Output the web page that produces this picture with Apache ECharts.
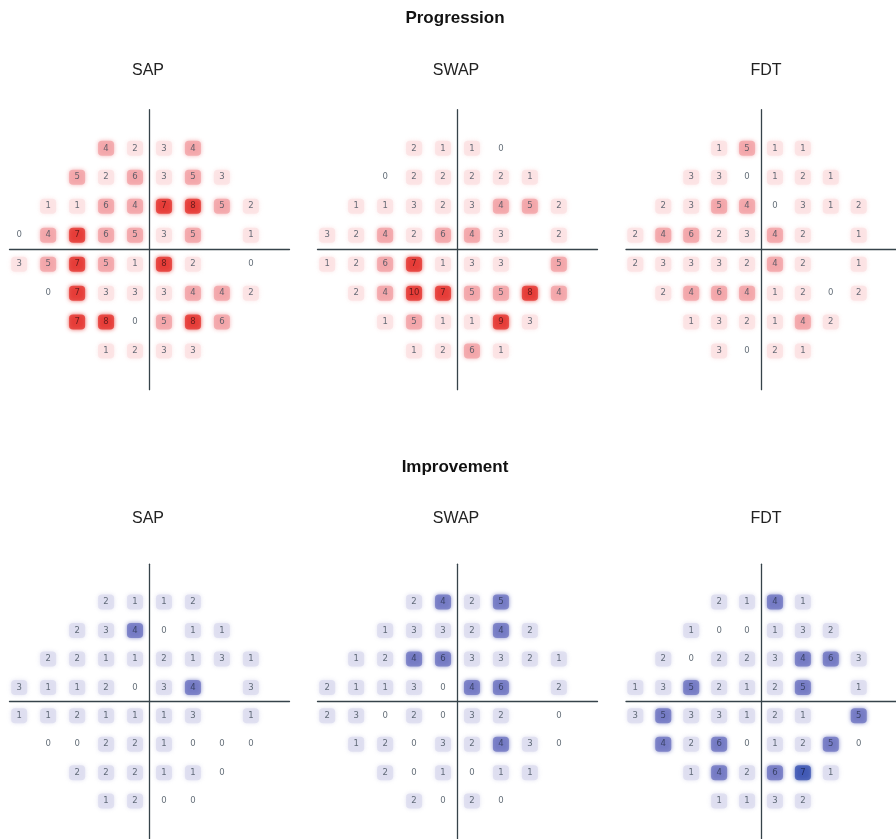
<!DOCTYPE html>
<html>
<head>
<meta charset="utf-8">
<script src="https://cdn.jsdelivr.net/npm/echarts@6/dist/echarts.min.js"></script>
<style>html,body{margin:0;padding:0;background:#fff}#c{width:896px;height:839px}</style>
</head>
<body>
<div id="c"></div>
<script>
// 24-2 test grid positions (degrees)
const xDeg = [-27, -21, -15, -9, -3, 3, 9, 15, 21];
const yDeg = [21, 15, 9, 3, -3, -9, -15, -21];
const sectionTitles = ['Progression', 'Improvement'];
const testNames = ['SAP', 'SWAP', 'FDT'];
const _ = null;

const progSAP = [
  [_, _, _, 4, 2, 3, 4, _, _],
  [_, _, 5, 2, 6, 3, 5, 3, _],
  [_, 1, 1, 6, 4, 7, 8, 5, 2],
  [0, 4, 7, 6, 5, 3, 5, _, 1],
  [3, 5, 7, 5, 1, 8, 2, _, 0],
  [_, 0, 7, 3, 3, 3, 4, 4, 2],
  [_, _, 7, 8, 0, 5, 8, 6, _],
  [_, _, _, 1, 2, 3, 3, _, _]
];
const progSWAP = [
  [_, _, _, 2, 1, 1, 0, _, _],
  [_, _, 0, 2, 2, 2, 2, 1, _],
  [_, 1, 1, 3, 2, 3, 4, 5, 2],
  [3, 2, 4, 2, 6, 4, 3, _, 2],
  [1, 2, 6, 7, 1, 3, 3, _, 5],
  [_, 2, 4, 10, 7, 5, 5, 8, 4],
  [_, _, 1, 5, 1, 1, 9, 3, _],
  [_, _, _, 1, 2, 6, 1, _, _]
];
const progFDT = [
  [_, _, _, 1, 5, 1, 1, _, _],
  [_, _, 3, 3, 0, 1, 2, 1, _],
  [_, 2, 3, 5, 4, 0, 3, 1, 2],
  [2, 4, 6, 2, 3, 4, 2, _, 1],
  [2, 3, 3, 3, 2, 4, 2, _, 1],
  [_, 2, 4, 6, 4, 1, 2, 0, 2],
  [_, _, 1, 3, 2, 1, 4, 2, _],
  [_, _, _, 3, 0, 2, 1, _, _]
];
const impSAP = [
  [_, _, _, 2, 1, 1, 2, _, _],
  [_, _, 2, 3, 4, 0, 1, 1, _],
  [_, 2, 2, 1, 1, 2, 1, 3, 1],
  [3, 1, 1, 2, 0, 3, 4, _, 3],
  [1, 1, 2, 1, 1, 1, 3, _, 1],
  [_, 0, 0, 2, 2, 1, 0, 0, 0],
  [_, _, 2, 2, 2, 1, 1, 0, _],
  [_, _, _, 1, 2, 0, 0, _, _]
];
const impSWAP = [
  [_, _, _, 2, 4, 2, 5, _, _],
  [_, _, 1, 3, 3, 2, 4, 2, _],
  [_, 1, 2, 4, 6, 3, 3, 2, 1],
  [2, 1, 1, 3, 0, 4, 6, _, 2],
  [2, 3, 0, 2, 0, 3, 2, _, 0],
  [_, 1, 2, 0, 3, 2, 4, 3, 0],
  [_, _, 2, 0, 1, 0, 1, 1, _],
  [_, _, _, 2, 0, 2, 0, _, _]
];
const impFDT = [
  [_, _, _, 2, 1, 4, 1, _, _],
  [_, _, 1, 0, 0, 1, 3, 2, _],
  [_, 2, 0, 2, 2, 3, 4, 6, 3],
  [1, 3, 5, 2, 1, 2, 5, _, 1],
  [3, 5, 3, 3, 1, 2, 1, _, 5],
  [_, 4, 2, 6, 0, 1, 2, 5, 0],
  [_, _, 1, 4, 2, 6, 7, 1, _],
  [_, _, _, 1, 1, 3, 2, _, _]
];

const panels = [
  { vals: progSAP, kind: 'prog', col: 0, row: 0 },
  { vals: progSWAP, kind: 'prog', col: 1, row: 0 },
  { vals: progFDT, kind: 'prog', col: 2, row: 0 },
  { vals: impSAP, kind: 'imp', col: 0, row: 1 },
  { vals: impSWAP, kind: 'imp', col: 1, row: 1 },
  { vals: impFDT, kind: 'imp', col: 2, row: 1 }
];

// styling
const palette = {
  prog: ['#fbe1e2', '#f2a3a6', '#e53530'],
  imp: ['#dcdcef', '#6f75c2', '#3a52b2']
};
const textColors = { prog: ['#3f4b57', '#3f4b57', '#4a1414'], imp: ['#3f4b57', '#2c3450', '#16204a'] };
function level(v) { return v <= 3 ? 0 : (v <= 6 ? 1 : 2); }
function cellColor(kind, v) {
  if (v <= 0) return 'rgba(0,0,0,0)';
  return palette[kind][level(v)];
}
const centersX = [149.5, 457.5, 766];
const centersY = [249.7, 704.2];
const half = 140;
const lim = 29;

const grids = [], xAxes = [], yAxes = [], series = [];
panels.forEach((p, i) => {
  const cx = centersX[p.col], cy = centersY[p.row];
  grids.push({ left: cx - half, top: cy - half, width: 2 * half, height: 2 * half, containLabel: false });
  const axisCommon = {
    type: 'value', min: -lim, max: lim, gridIndex: i,
    axisLine: { show: true, onZero: true, lineStyle: { color: '#36434a', width: 1.3 } },
    axisTick: { show: false }, axisLabel: { show: false }, splitLine: { show: false }
  };
  xAxes.push(Object.assign({}, axisCommon));
  yAxes.push(Object.assign({}, axisCommon));
  const data = [];
  p.vals.forEach((rowVals, r) => {
    rowVals.forEach((v, c) => {
      if (v === null) return;
      const col = cellColor(p.kind, v);
      data.push({
        value: [xDeg[c], yDeg[r], v],
        itemStyle: { color: col, shadowColor: col, shadowBlur: v > 0 ? 4 : 0 },
        label: { color: textColors[p.kind][level(v)] }
      });
    });
  });
  series.push({
    type: 'scatter', xAxisIndex: i, yAxisIndex: i,
    symbol: 'roundRect', symbolSize: [16, 15],
    data: data, silent: true, z: 3,
    label: {
      show: true, position: 'inside', formatter: d => String(d.value[2]),
      fontSize: 8.5, color: '#3f4b57', fontFamily: 'DejaVu Sans'
    },
    labelLayout: { hideOverlap: false }
  });
});

const graphics = [];
sectionTitles.forEach((t, k) => {
  graphics.push({
    type: 'text', x: 455, y: k === 0 ? 18.5 : 467.5,
    style: { text: t, fontSize: 17, fontWeight: 'bold', fontFamily: 'Liberation Sans', fill: '#111',
      textAlign: 'center', textVerticalAlign: 'middle' }
  });
  testNames.forEach((n, j) => {
    graphics.push({
      type: 'text', x: [148, 456, 766][j], y: k === 0 ? 71 : 519,
      style: { text: n, fontSize: 16, fontFamily: 'Liberation Sans', fill: '#222',
        textAlign: 'center', textVerticalAlign: 'middle' }
    });
  });
});

const chart = echarts.init(document.getElementById('c'));
chart.setOption({
  backgroundColor: '#ffffff',
  animation: false,
  grid: grids, xAxis: xAxes, yAxis: yAxes, series: series,
  graphic: graphics
});
</script>
</body>
</html>
